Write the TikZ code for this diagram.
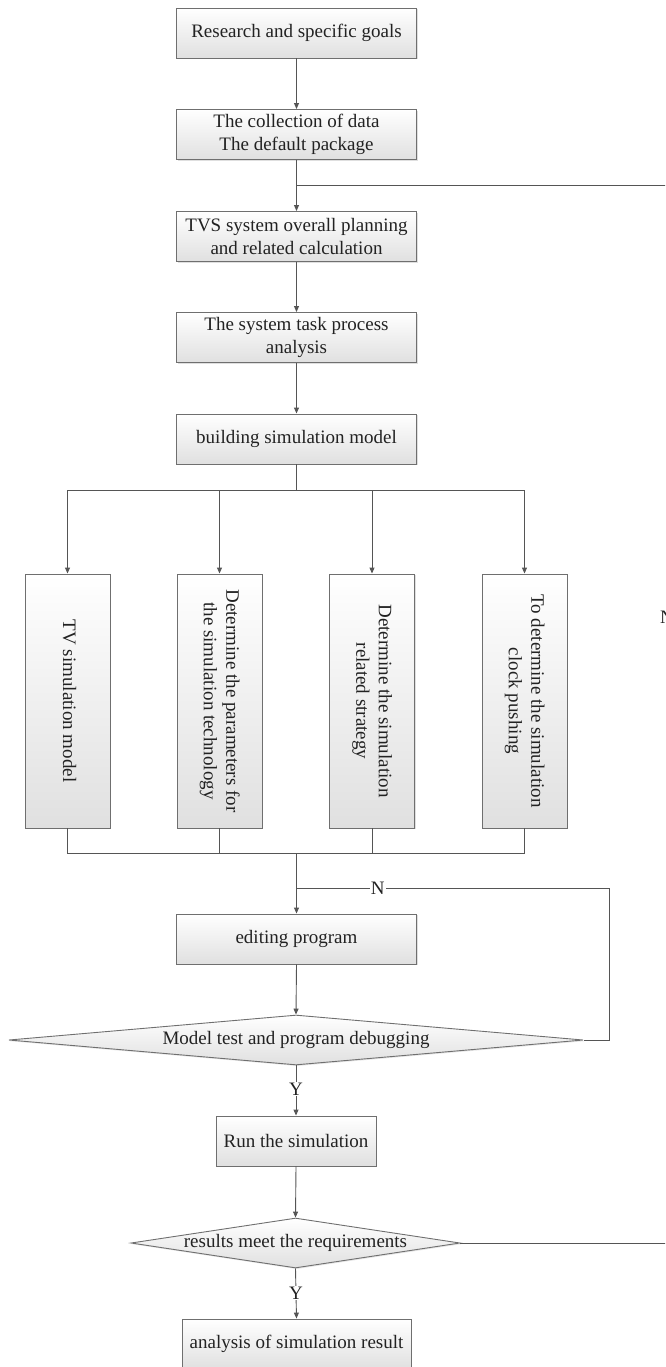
\documentclass[tikz,border=0pt]{standalone}
\usepackage{fontspec}
\usepackage{graphicx}
\setmainfont{Liberation Serif}
\usetikzlibrary{arrows.meta,shapes.geometric,shadows}
\definecolor{lc}{HTML}{555555}
\definecolor{bc}{HTML}{6F6F6F}
\definecolor{fillb}{HTML}{E0E0E0}
\definecolor{tc}{HTML}{222222}
\newcommand{\vtext}[1]{\rotatebox{-90}{\begin{tabular}{@{}c@{}}#1\end{tabular}}}
\begin{document}
\begin{tikzpicture}[x=1pt,y=-1pt,
  conn/.style={draw=lc, line width=0.9pt},
  arr/.style={conn, -{Triangle[length=6pt,width=5pt]}},
  box/.style={draw=bc, line width=0.9pt, top color=white, bottom color=fillb,
    minimum width=240pt, minimum height=50pt, inner sep=2pt, align=center,
    font=\fontsize{19}{22.5}\selectfont, text=tc,
    drop shadow={shadow xshift=1.2pt, shadow yshift=-1.2pt, opacity=0.25}},
  tall/.style={box, minimum width=85pt, minimum height=254pt},
  dia/.style={diamond, draw=bc, line width=0.9pt, top color=white, bottom color=fillb,
    inner sep=0pt, drop shadow={shadow xshift=1.2pt, shadow yshift=-1.2pt, opacity=0.2}},
  lab/.style={fill=white, inner sep=1pt, font=\fontsize{19}{22.5}\selectfont, text=tc},
  every label/.style={font=\fontsize{19}{22.5}\selectfont, text=tc}
]
\useasboundingbox (0,0) rectangle (665,1367);
\clip (0,0) rectangle (665,1367);

% main column
\node[box] (b1) at (296.5,33) {Research and specific goals};
\node[box] (b2) at (296.5,134.5) {The collection of data\\The default package};
\node[box] (b3) at (296.5,236.5) {TVS system overall planning\\and related calculation};
\node[box] (b4) at (296.5,337.5) {The system task process\\analysis};
\node[box] (b5) at (296.5,439) {building simulation model};

% tall boxes
\node[tall] (ta) at (67.5,701) {\vtext{TV simulation model}};
\node[tall] (tb) at (219.5,701) {\vtext{Determine the parameters for\\the simulation technology}};
\node[tall] (tcx) at (372,701) {\vtext{Determine the simulation\\related strategy}};
\node[tall] (td) at (524.5,701) {\vtext{To determine the simulation\\clock pushing}};

\node[box] (ed) at (296.5,939) {editing program};
\node[dia, minimum width=574.5pt, minimum height=50pt,
      label=center:{Model test and program debugging}] (d1) at (296,1040) {};
\node[box, minimum width=160pt] (run) at (296,1141) {Run the simulation};
\node[dia, minimum width=329pt, minimum height=50pt,
      label=center:{results meet the requirements}] (d2) at (295.5,1243) {};
\node[box, minimum width=229pt] (an) at (296.5,1344) {analysis of simulation result};

% helper coordinates
\coordinate (fbR) at (675,185);
\coordinate (bus1) at (296.5,490);
\coordinate (bus2) at (296.5,853);
\coordinate (loopR) at (609,888);
\coordinate (resR) at (675,1243);

% connectors
\draw[arr] (b1.south) -- (b2.north);
\draw[arr] (b2.south) -- (b3.north);
\draw[conn] (b2.south |- fbR) -- (fbR);
\draw[arr] (b3.south) -- (b4.north);
\draw[arr] (b4.south) -- (b5.north);
\draw[conn] (b5.south) -- (bus1);
\draw[conn] (ta.north |- bus1) -- (td.north |- bus1);
\draw[arr] (ta.north |- bus1) -- (ta.north);
\draw[arr] (tb.north |- bus1) -- (tb.north);
\draw[arr] (tcx.north |- bus1) -- (tcx.north);
\draw[arr] (td.north |- bus1) -- (td.north);

\draw[conn] (ta.south) -- (ta.south |- bus2) -- (td.south |- bus2) -- (td.south);
\draw[conn] (tb.south) -- (tb.south |- bus2);
\draw[conn] (tcx.south) -- (tcx.south |- bus2);
\draw[arr] (ed.north |- bus2) -- (ed.north);

\draw[conn] (d1.east) -- (loopR |- d1.east) -- (loopR) -- (ed.north |- loopR)
  node[lab, pos=0.74] {N};
\draw[arr] (ed.south) -- (d1.north);
\draw[arr] (d1.south) -- (run.north) node[lab, pos=0.47] {Y};
\draw[arr] (run.south) -- (d2.north);
\draw[arr] (d2.south) -- (an.north) node[lab, pos=0.49] {Y};
\draw[conn] (d2.east) -- (resR);

% cut-off label at right edge
\node[font=\fontsize{19}{22.5}\selectfont, text=tc, anchor=west, inner sep=0pt] (ncut) at (660,617) {N};
\end{tikzpicture}
\end{document}
